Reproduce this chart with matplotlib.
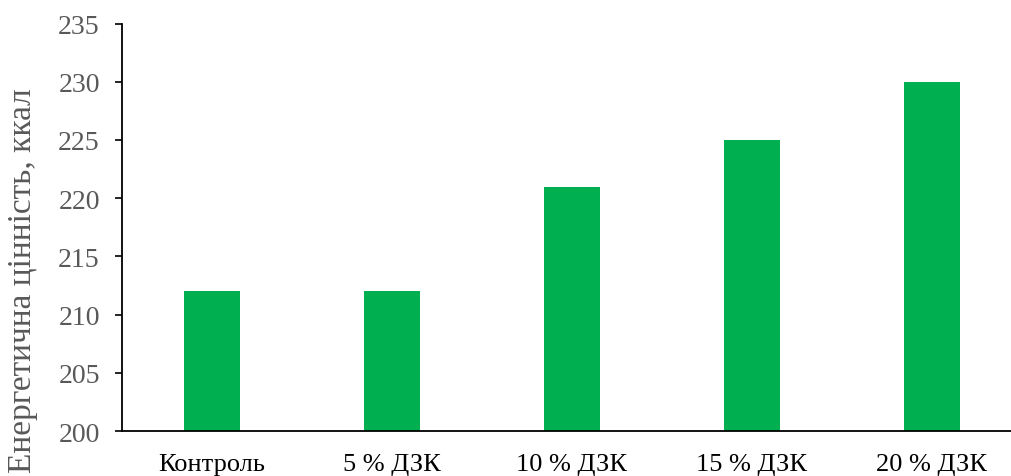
import matplotlib
matplotlib.use("Agg")
import matplotlib.pyplot as plt
import numpy as np

categories = ["Контроль", "5 % ДЗК", "10 % ДЗК", "15 % ДЗК", "20 % ДЗК"]
energy_kcal = [212, 212, 221, 225, 230]
y_ticks = [200, 205, 210, 215, 220, 225, 230, 235]
y_label = "Енергетична цінність, ккал"

plt.rcParams["font.family"] = ["Liberation Serif", "DejaVu Serif"]

W, H, DPI = 1011, 477, 100
fig = plt.figure(figsize=(W / DPI, H / DPI), dpi=DPI)
left, right = 122, 1022
bottom, top = 432, 24.5
ax = fig.add_axes([left / W, 1 - bottom / H, (right - left) / W, (bottom - top) / H])

x = np.arange(len(categories))
ax.bar(x, energy_kcal, width=0.315, color="#00B050", zorder=2)

ax.set_xlim(-0.5, len(categories) - 0.5)
ax.set_ylim(200, 235)
ax.set_yticks(y_ticks)
ax.set_xticks(x)
ax.set_xticklabels(categories, fontsize=19, color="black")
ax.tick_params(axis="x", length=0, pad=15.5)
ax.tick_params(axis="y", length=5, width=1.2, direction="out", pad=11,
               labelsize=20, labelcolor="#595959")

for side in ("top", "right"):
    ax.spines[side].set_visible(False)
for side in ("left", "bottom"):
    ax.spines[side].set_linewidth(1.3)
    ax.spines[side].set_color("black")

ax.set_ylabel(y_label, fontsize=24, color="#595959")
ax.yaxis.set_label_coords(-(left - 23) / (right - left), (bottom - 281) / (bottom - top))
ax.yaxis.label.set_verticalalignment("center")

fig.savefig("out.png", dpi=DPI)
